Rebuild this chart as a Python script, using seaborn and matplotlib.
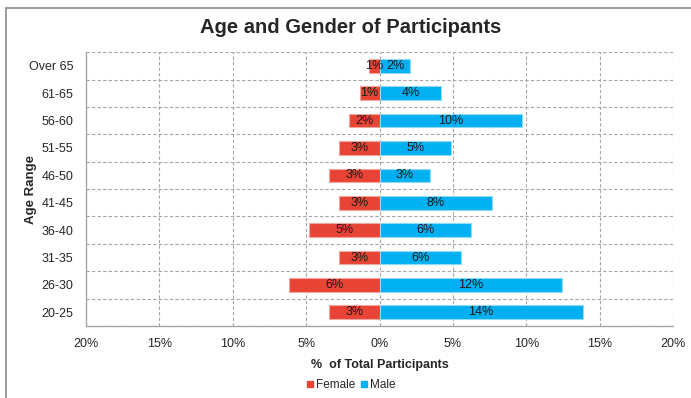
import numpy as np
import pandas as pd
import seaborn as sns
import matplotlib.pyplot as plt
from matplotlib.lines import Line2D

# values (% of total participants)
ages = ["Over 65", "61-65", "56-60", "51-55", "46-50", "41-45", "36-40", "31-35", "26-30", "20-25"]
female = [0.70, 1.36, 2.06, 2.74, 3.42, 2.74, 4.81, 2.74, 6.19, 3.42]
male = [2.11, 4.20, 9.69, 4.88, 3.45, 7.65, 6.26, 5.56, 12.46, 13.85]
xticks = [-20, -15, -10, -5, 0, 5, 10, 15, 20]

red = "#E84436"
blue = "#00B0F0"
grid_col = "#A6A6A6"

df = pd.DataFrame({"age": ages, "Female": female, "Male": male})

sns.set_style("white")
plt.rcParams["font.family"] = ["Liberation Sans", "DejaVu Sans"]

fig = plt.figure(figsize=(6.91, 3.98), dpi=100)
ax = fig.add_axes([0.1245, 0.181, 0.8495, 0.688])

sns.barplot(x=-df["Female"], y=df["age"], order=ages, color=red, width=0.5, saturation=1,
            edgecolor="#F6A59C", linewidth=0.8, orient="h", ax=ax)
sns.barplot(x=df["Male"], y=df["age"], order=ages, color=blue, width=0.5, saturation=1,
            edgecolor="#8FDCF8", linewidth=0.8, orient="h", ax=ax)

# labels inside the bars
for i, (f, m) in enumerate(zip(female, male)):
    ax.text(-f / 2, i, f"{f:.0f}%", ha="center", va="center", fontsize=9, color="#1a1a1a")
    ax.text(m / 2, i, f"{m:.0f}%", ha="center", va="center", fontsize=9, color="#1a1a1a")

ax.set_xlim(-20, 20)
ax.set_ylim(9.5, -0.5)
ax.set_xticks(xticks)
ax.set_xticklabels([f"{abs(t)}%" for t in xticks], fontsize=9)
ax.tick_params(axis="y", length=0, labelsize=9, pad=9)
ax.tick_params(axis="x", length=3, color=grid_col, labelsize=9, pad=6)
ax.set_yticks(np.arange(-0.5, 10, 1), minor=True)
ax.tick_params(axis="y", which="minor", length=0)

ax.grid(axis="x", which="major", linestyle=(0, (3, 2)), color=grid_col, linewidth=0.8)
ax.grid(axis="y", which="minor", linestyle=(0, (3, 2)), color=grid_col, linewidth=0.8)
ax.set_axisbelow(True)
for s in ["top", "right"]:
    ax.spines[s].set_visible(False)
for s in ["left", "bottom"]:
    ax.spines[s].set_color(grid_col)
    ax.spines[s].set_linewidth(1.0)

ax.set_xlabel("%  of Total Participants", fontsize=9, fontweight="bold", labelpad=6)
ax.set_ylabel("Age Range", fontsize=9.5, fontweight="bold")
ax.yaxis.set_label_coords(-0.084, 0.5)

fig.suptitle("Age and Gender of Participants", x=0.507, y=0.955, fontsize=14.5, fontweight="bold")

handles = [Line2D([], [], marker="s", linestyle="", color=red, markersize=5),
           Line2D([], [], marker="s", linestyle="", color=blue, markersize=5)]
fig.legend(handles, ["Female", "Male"], loc="center", bbox_to_anchor=(0.507, 0.032), ncol=2,
           frameon=False, fontsize=8.5, handletextpad=0.1, columnspacing=0.4, handlelength=0.8)

# chart frame from the source document
fig.add_artist(Line2D([6 / 691, 6 / 691], [0, 1 - 8 / 398], color="#8C8C8C", linewidth=1.2))
fig.add_artist(Line2D([6 / 691, 1], [1 - 8 / 398, 1 - 8 / 398], color="#8C8C8C", linewidth=1.2))

fig.savefig("out.png", dpi=100)
